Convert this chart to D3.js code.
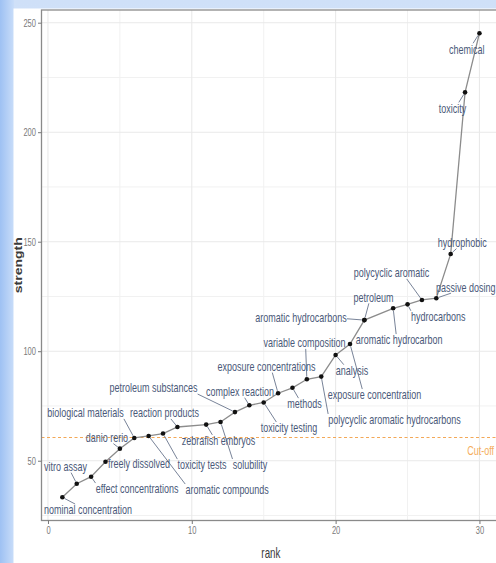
<!DOCTYPE html>
<html>
<head>
<meta charset="utf-8">
<script src="https://cdn.jsdelivr.net/npm/d3@7"></script>
<style>
  html, body { margin: 0; padding: 0; background: #fff; }
  svg { display: block; }
  text { font-family: "Liberation Sans", Arial, sans-serif; }
</style>
</head>
<body>
<svg id="chart" width="496" height="563"></svg>
<script>
// Keyword ranking: each term's strength, ordered by rank
const ranks = [1, 2, 3, 4, 5, 6, 7, 8, 9, 11, 12, 13, 14, 15, 16, 17, 18, 19, 20, 21, 22, 22, 24, 25, 26, 27, 28, 29, 30];
const strengths = [33.3, 39.5, 42.7, 49.5, 55.5, 60.4, 61.3, 62.4, 65.4, 66.5, 67.7, 72.2, 75.3, 76.6, 80.8, 83.3, 87.2, 88.4, 98.3, 103.3, 114.2, 114.2, 119.6, 121.4, 123.4, 124.2, 144.4, 218.2, 245.2];
const terms = [
  "nominal concentration", "vitro assay", "effect concentrations", "freely dissolved",
  "danio rerio", "biological materials", "aromatic compounds", "toxicity tests",
  "reaction products", "zebrafish embryos", "solubility", "petroleum substances",
  "complex reaction", "toxicity testing", "exposure concentrations", "methods",
  "variable composition", "polycyclic aromatic hydrocarbons", "analysis",
  "exposure concentration", "aromatic hydrocarbons", "petroleum", "aromatic hydrocarbon",
  "hydrocarbons", "polycyclic aromatic", "passive dosing", "hydrophobic", "toxicity", "chemical"
];
const cutoff = 60.6;
const cutoffLabel = "Cut-off";
const xTicks = [0, 10, 20, 30];
const xMinor = [5, 15, 25];
const yTicks = [50, 100, 150, 200, 250];
const yMinor = [25, 75, 125, 175, 225];
const xTitle = "rank";
const yTitle = "strength";

// Repelled label placement: offset (px) of each label centre from its point
const labelOffsets = [
  [25.6, 12.7], [-11.3, -17], [46, 12.3], [33.5, 2.3], [-13, -11], [-48.8, -25],
  [78.5, 54], [39, 31.5], [-13, -14], [12.3, 16.2], [29.4, 43], [-81.5, -24],
  [-9.3, -13.5], [25.3, 25.5], [-11.6, -26.6], [12, 16.3], [-2.3, -36.3], [73.3, 43.3],
  [16.4, 15.7], [24.5, 51], [-63.4, -2.7], [9, -22.7], [6, 31.7], [30.8, 12.4],
  [-30.4, -27], [29.5, -11], [11.6, -11.3], [-12.5, 16], [-12.7, 16]
];

const data = ranks.map((r, i) => ({ rank: r, strength: strengths[i], term: terms[i], off: labelOffsets[i] }));

const W = 496, H = 563;
const svg = d3.select("#chart");
const squash = 0.72;       // horizontal text compression
const labelColor = "#4a5979";

// page backdrop
const defs = svg.append("defs");
const lg = defs.append("linearGradient").attr("id", "edge").attr("x1", 0).attr("x2", 1).attr("y1", 0).attr("y2", 0);
lg.append("stop").attr("offset", "0%").attr("stop-color", "#9ec1f3");
lg.append("stop").attr("offset", "100%").attr("stop-color", "#c9ddf9");
const tg = defs.append("linearGradient").attr("id", "topedge").attr("x1", 0).attr("x2", 0).attr("y1", 0).attr("y2", 1);
tg.append("stop").attr("offset", "0%").attr("stop-color", "#cfe0f8");
tg.append("stop").attr("offset", "100%").attr("stop-color", "#e2ecfb");
svg.append("rect").attr("width", W).attr("height", H).attr("fill", "url(#topedge)");
svg.append("rect").attr("width", 14).attr("height", H).attr("fill", "url(#edge)");
svg.append("rect").attr("x", 13.5).attr("y", 8.5).attr("width", W).attr("height", H).attr("fill", "#fff");

// scales with 5% expansion
function expand(ext) { const d = (ext[1] - ext[0]) * 0.05; return [ext[0] - d, ext[1] + d]; }
const x = d3.scaleLinear().domain(expand(d3.extent(ranks))).range([41.5, 500.3]);
const y = d3.scaleLinear().domain(expand(d3.extent(strengths))).range([520.5, 10]);
const [x0, x1] = x.range();
const [y0, y1] = y.range();

// grid
const grid = svg.append("g");
grid.selectAll(".gxm").data(xMinor).join("line")
  .attr("x1", d => x(d)).attr("x2", d => x(d)).attr("y1", y1).attr("y2", y0)
  .attr("stroke", "#f1f1f1").attr("stroke-width", 1);
grid.selectAll(".gym").data(yMinor.filter(v => y(v) < y0 && y(v) > y1)).join("line")
  .attr("x1", x0).attr("x2", x1).attr("y1", d => y(d)).attr("y2", d => y(d))
  .attr("stroke", "#f1f1f1").attr("stroke-width", 1);
grid.selectAll(".gx").data(xTicks).join("line")
  .attr("x1", d => x(d)).attr("x2", d => x(d)).attr("y1", y1).attr("y2", y0)
  .attr("stroke", "#e9e9e9").attr("stroke-width", 1.1);
grid.selectAll(".gy").data(yTicks).join("line")
  .attr("x1", x0).attr("x2", x1).attr("y1", d => y(d)).attr("y2", d => y(d))
  .attr("stroke", "#e9e9e9").attr("stroke-width", 1.1);

// cut-off threshold
svg.append("line")
  .attr("x1", x0).attr("x2", x1).attr("y1", y(cutoff)).attr("y2", y(cutoff))
  .attr("stroke", "#f3a857").attr("stroke-width", 1.1).attr("stroke-dasharray", "3,2.5");
svg.append("g").attr("transform", `translate(494,${y(cutoff) + 13})`)
  .append("text").attr("transform", `scale(${squash},1)`)
  .attr("text-anchor", "end").attr("dy", "0.35em")
  .attr("font-size", 12.5).attr("fill", "#f5ad5c").text(cutoffLabel);

// connecting line in rank order
svg.append("path").datum(data)
  .attr("d", d3.line().x(d => x(d.rank)).y(d => y(d.strength)))
  .attr("fill", "none").attr("stroke", "#8c8c8c").attr("stroke-width", 1.3);

// labels and leader segments
const segLayer = svg.append("g");
const labLayer = svg.append("g");
const fs = 12.5;
function attach(p, c, lo, hi) {
  if (p < lo) return lo;
  if (p > hi) return hi;
  return Math.max(lo, Math.min(hi, (p + c) / 2));
}
data.forEach(d => {
  const px = x(d.rank), py = y(d.strength);
  const cx = px + d.off[0], cy = py + d.off[1];
  const g = labLayer.append("g").attr("transform", `translate(${cx},${cy})`);
  const t = g.append("text").attr("transform", `scale(${squash},1)`)
    .attr("text-anchor", "middle").attr("dy", "0.35em")
    .attr("font-size", fs).attr("fill", labelColor).text(d.term);
  const w = t.node().getBBox().width * squash;
  const h = fs * 0.95;
  const qx = attach(px, cx, cx - w / 2, cx + w / 2);
  const qy = attach(py, cy, cy - h / 2, cy + h / 2);
  const dist = Math.hypot(qx - px, qy - py);
  if (dist > 7) {
    const ux = (qx - px) / dist, uy = (qy - py) / dist;
    segLayer.append("line")
      .attr("x1", px + ux * 2.5).attr("y1", py + uy * 2.5)
      .attr("x2", qx).attr("y2", qy)
      .attr("stroke", "#55637d").attr("stroke-width", 0.8);
  }
});

// points
svg.append("g").selectAll("circle").data(data).join("circle")
  .attr("cx", d => x(d.rank)).attr("cy", d => y(d.strength))
  .attr("r", 2.3).attr("fill", "#111");

// panel border
svg.append("rect").attr("x", x0).attr("y", y1).attr("width", x1 - x0).attr("height", y0 - y1)
  .attr("fill", "none").attr("stroke", "#8a8a8a").attr("stroke-width", 1.3);

// axes
const tickColor = "#777";
const ax = svg.append("g").attr("transform", `translate(0,${y0})`)
  .call(d3.axisBottom(x).tickValues(xTicks).tickSize(3.5).tickPadding(3).tickFormat(d3.format("d")));
const ay = svg.append("g").attr("transform", `translate(${x0},0)`)
  .call(d3.axisLeft(y).tickValues(yTicks).tickSize(3.5).tickPadding(2).tickFormat(d3.format("d")));
[ax, ay].forEach(a => {
  a.select(".domain").remove();
  a.selectAll(".tick line").attr("stroke", tickColor);
  a.selectAll(".tick text").attr("fill", "#7a7a7a").attr("font-size", 10.5)
    .attr("font-family", "'Liberation Sans', Arial, sans-serif");
});
ax.selectAll(".tick text").attr("transform", `scale(${squash},1)`);
ay.selectAll(".tick text").attr("transform", `scale(${squash},1)`).attr("x", -5.5 / squash);

// axis titles
svg.append("g").attr("transform", `translate(${(x0 + x1) / 2},553)`)
  .append("text").attr("transform", `scale(0.7,1)`).attr("text-anchor", "middle").attr("dy", "0.35em")
  .attr("font-size", 14).attr("fill", "#3a3a3a").text(xTitle);
svg.append("g").attr("transform", `translate(18.5,${(y0 + y1) / 2}) rotate(-90)`)
  .append("text").attr("transform", `scale(1,${squash})`).attr("text-anchor", "middle").attr("dy", "0.35em")
  .attr("font-size", 14).attr("font-weight", "bold").attr("fill", "#3a3a3a").text(yTitle);
</script>
</body>
</html>
